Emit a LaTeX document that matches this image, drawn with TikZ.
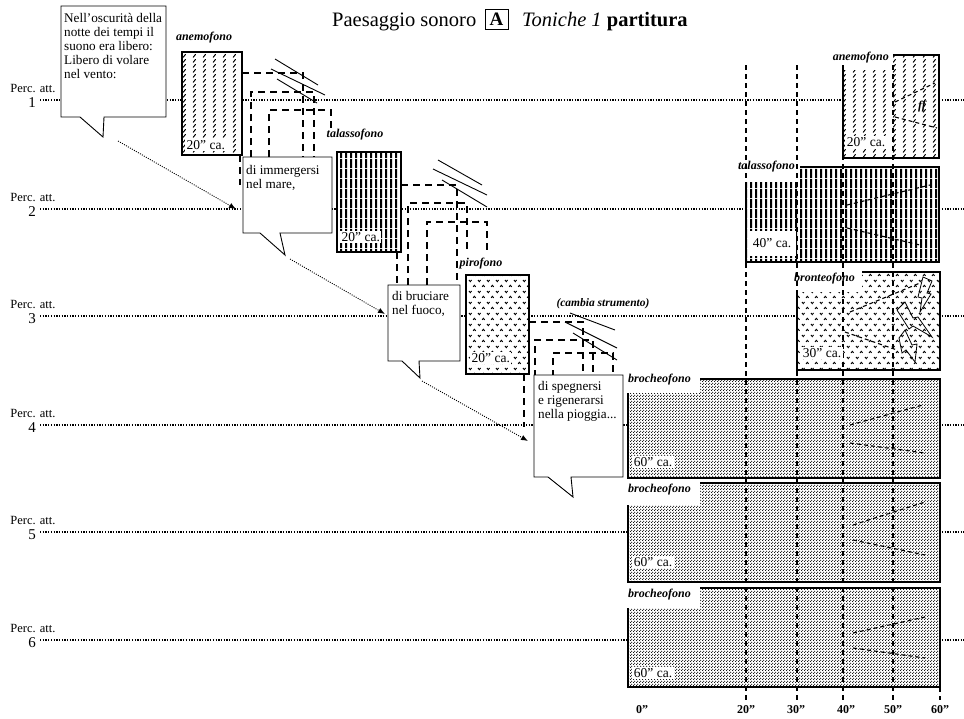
\documentclass[tikz,border=0pt]{standalone}
\usepackage{fontspec}
\setmainfont{Liberation Serif}
\usetikzlibrary{patterns,arrows.meta}

\pgfdeclarepatternformonly{slashcols}{\pgfqpoint{0pt}{0pt}}{\pgfqpoint{10pt}{5pt}}{\pgfqpoint{10pt}{5pt}}{%
  \pgfsetlinewidth{1.1pt}\pgfsetroundcap
  \pgfpathmoveto{\pgfqpoint{3.5pt}{0.8pt}}\pgfpathlineto{\pgfqpoint{5.9pt}{4.2pt}}\pgfusepath{stroke}}
\pgfdeclarepatternformonly{vstripes}{\pgfqpoint{0pt}{0pt}}{\pgfqpoint{5pt}{10pt}}{\pgfqpoint{5pt}{10pt}}{%
  \pgfpathrectangle{\pgfqpoint{0pt}{0pt}}{\pgfqpoint{2.6pt}{10pt}}\pgfusepath{fill}}
\pgfdeclarepatternformonly{chevrons}{\pgfqpoint{0pt}{0pt}}{\pgfqpoint{9pt}{11pt}}{\pgfqpoint{9pt}{11pt}}{%
  \pgfsetlinewidth{1pt}
  \pgfpathmoveto{\pgfqpoint{1.1pt}{9.7pt}}\pgfpathlineto{\pgfqpoint{2.5pt}{8.0pt}}\pgfpathlineto{\pgfqpoint{3.9pt}{9.7pt}}
  \pgfpathmoveto{\pgfqpoint{5.6pt}{2.3pt}}\pgfpathlineto{\pgfqpoint{7pt}{4pt}}\pgfpathlineto{\pgfqpoint{8.4pt}{2.3pt}}
  \pgfusepath{stroke}}
\pgfdeclarepatternformonly{stipple}{\pgfqpoint{0pt}{0pt}}{\pgfqpoint{3pt}{3pt}}{\pgfqpoint{3pt}{3pt}}{%
  \pgfpathcircle{\pgfqpoint{0.75pt}{0.75pt}}{0.78pt}
  \pgfpathcircle{\pgfqpoint{2.25pt}{2.25pt}}{0.78pt}
  \pgfusepath{fill}}

\begin{document}
\begin{tikzpicture}[x=1pt,y=-1pt,
  staff/.style={line width=1.8pt, dash pattern=on 1.3pt off 1.4pt},
  vgrid/.style={line width=1.1pt, dash pattern=on 5pt off 4pt},
  conn/.style={line width=1.9pt, dash pattern=on 7pt off 5pt},
  thickbox/.style={line width=2.2pt},
  bubble/.style={draw, fill=white, line width=0.9pt, line join=miter},
  btext/.style={anchor=north west, inner sep=1pt, align=left, font=\fontsize{13.2}{14}\selectfont},
  darrow/.style={line width=0.9pt, dash pattern=on 1pt off 1.3pt, -{Latex[length=7pt,width=5.5pt]}},
  hair/.style={line width=1.1pt, dash pattern=on 4pt off 3pt},
  slant/.style={line width=0.9pt},
  instlabel/.style={inner sep=1pt, font=\bfseries\itshape\fontsize{12}{12}\selectfont},
  dur/.style={fill=white, inner sep=1.5pt, font=\fontsize{13.5}{14}\selectfont},
  perc/.style={inner sep=0pt, font=\fontsize{12.5}{12.5}\selectfont},
  pnum/.style={inner sep=0pt, font=\fontsize{15}{15}\selectfont},
  tick/.style={inner sep=0pt, font=\bfseries\fontsize{12}{12}\selectfont},
  bolt/.style={line width=0.8pt, line join=miter}
]
\useasboundingbox (0,0) rectangle (964,718);
\fill[white] (0,0) rectangle (964,718);

% ---- title
\node[anchor=base west, inner sep=0, font=\fontsize{20.5}{22}\selectfont] (t1) at (332,26) {Paesaggio sonoro};
\node[draw, line width=0.8pt, minimum width=23, minimum height=20, inner sep=0, font=\bfseries\fontsize{19}{20}\selectfont] (tA) at (496.5,19) {A};
\node[anchor=base west, inner sep=0, font=\fontsize{20.5}{22}\selectfont] (t2) at (522,26) {\textit{Toniche 1} \textbf{partitura}};

% ---- staff lines
\foreach \r/\yy in {1/100,2/209,3/316,4/425,5/532,6/640} {
  \node[perc] (perc\r) at (33,\yy-12) {Perc. att.};
  \node[pnum] (num\r) at (32,\yy+3) {\r};
  \coordinate (sL\r) at (40,\yy);
  \coordinate (sR\r) at (964,\yy);
  \draw[staff] (sL\r) -- (sR\r);
}

% ---- connection dashed lines
\draw[conn] (242,73) -- (303,73) -- (303,157);
\draw[conn] (251,157) -- (251,92) -- (314,92) -- (314,157);
\draw[conn] (269,157) -- (269,110) -- (331,110) -- (331,128);
\draw[conn] (240,155) -- (240,185);
\draw[conn] (401,185) -- (457,185) -- (457,285);
\draw[conn] (397,252) -- (397,285);
\draw[conn] (408,285) -- (408,203) -- (467,203) -- (467,250);
\draw[conn] (427,285) -- (427,222) -- (487,222) -- (487,253);
\draw[conn] (529,322) -- (583,322) -- (583,377);
\draw[conn] (524,374) -- (524,427);
\draw[conn] (535,377) -- (535,340) -- (593,340) -- (593,377);
\draw[conn] (553,377) -- (553,353) -- (613,353) -- (613,377);

% ---- slanted strokes
\draw[slant] (275,59) -- (318,85);
\draw[slant] (271,69) -- (325,95);
\draw[slant] (277,79) -- (317,103);
\draw[slant] (438,160) -- (482,185);
\draw[slant] (433,169) -- (487,195);
\draw[slant] (442,180) -- (487,207);
\draw[slant] (570,313) -- (615,330);
\draw[slant] (565,322) -- (617,348);
\draw[slant] (573,333) -- (617,360);

% ---- left instrument boxes
\path[pattern=slashcols, preaction={fill=white}] (182,52) rectangle (242,155);
\draw[thickbox] (182,52) rectangle (242,155);
\node[instlabel] (lAn) at (204,38) {anemofono};
\node[dur, anchor=west] (dAn) at (185,145) {20” ca.};

\path[pattern=vstripes, preaction={fill=white}] (337,152) rectangle (401,252);
\draw[thickbox] (337,152) rectangle (401,252);
\node[instlabel] (lTa) at (355,135) {talassofono};
\node[dur, anchor=west] (dTa) at (340,237) {20” ca.};

\path[pattern=chevrons, preaction={fill=white}] (466,275) rectangle (529,374);
\draw[thickbox] (466,275) rectangle (529,374);
\node[instlabel] (lPi) at (481,264) {pirofono};
\node[dur, anchor=west] (dPi) at (470,358) {20” ca.};

\node[inner sep=0pt, font=\bfseries\itshape\fontsize{11.5}{12}\selectfont] (cambia) at (603,304) {(cambia strumento)};

% ---- speech bubbles
\draw[bubble] (61,6) -- (166,6) -- (166,117) -- (104,117) -- (103,137) -- (80,117) -- (61,117) -- cycle;
\node[btext] (b1) at (63,12) {Nell’oscurità della\\notte dei tempi il\\suono era libero:\\Libero di volare\\nel vento:};
\draw[bubble] (243,157) -- (332,157) -- (332,233) -- (280,233) -- (285,255) -- (260,233) -- (243,233) -- cycle;
\node[btext] (b2) at (245,164) {di immergersi\\nel mare,};
\draw[bubble] (388,285) -- (460,285) -- (460,361) -- (419,361) -- (420,378) -- (402,361) -- (388,361) -- cycle;
\node[btext] (b3) at (391,290.5) {di bruciare\\nel fuoco,};
\draw[bubble] (534,375) -- (623,375) -- (623,477) -- (571,477) -- (573,497) -- (548,477) -- (534,477) -- cycle;
\node[btext] (b4) at (537,380.5) {di spegnersi\\e rigenerarsi\\nella pioggia...};

% ---- dotted arrows
\coordinate (a1s) at (118,141); \coordinate (a1e) at (236,209);
\coordinate (a2s) at (290,259); \coordinate (a2e) at (385,314);
\coordinate (a3s) at (422,381); \coordinate (a3e) at (528,441);
\draw[darrow] (a1s) -- (a1e);
\draw[darrow] (a2s) -- (a2e);
\draw[darrow] (a3s) -- (a3e);

% ---- right instrument boxes
% anemofono
\path[pattern=slashcols, preaction={fill=white}] (843,70) -- (893,70) -- (893,55) -- (939,55) -- (939,158) -- (843,158) -- cycle;
\draw[thickbox] (843,70) -- (843,158) -- (939,158) -- (939,55) -- (893,55);
% talassofono
\path[pattern=vstripes, preaction={fill=white}] (746,182) -- (800,182) -- (800,167) -- (939,167) -- (939,262) -- (746,262) -- cycle;
\draw[thickbox] (746,182) -- (746,262) -- (939,262) -- (939,167) -- (800,167);
% bronteofono
\path[pattern=chevrons, preaction={fill=white}] (797,292) -- (862,292) -- (862,272) -- (940,272) -- (940,370) -- (797,370) -- cycle;
\draw[thickbox] (797,292) -- (797,370) -- (940,370) -- (940,272) -- (862,272);
% brocheofono x3
\foreach \k/\ta/\tb/\bb in {4/379/393/478, 5/483/505/582, 6/588/608/687} {
  \path[pattern=stipple, pattern color=black, preaction={fill=white}] (628,\tb) -- (700,\tb) -- (700,\ta) -- (940,\ta) -- (940,\bb) -- (628,\bb) -- cycle;
  \draw[thickbox] (628,\tb) -- (628,\bb) -- (940,\bb) -- (940,\ta) -- (700,\ta);
}

% ---- vertical time grid
\foreach \xx/\nm in {746/g20, 797/g30, 843/g40, 893/g50} {
  \coordinate (\nm t) at (\xx,65);
  \coordinate (\nm b) at (\xx,700);
  \draw[vgrid] (\nm t) -- (\nm b);
}
\coordinate (g60t) at (940,687); \coordinate (g60b) at (940,700);
\draw[vgrid] (g60t) -- (g60b);

% ---- hairpins
\draw[hair] (895,102) -- (935,83);
\draw[hair] (895,117) -- (937,128);
\draw[hair] (847,205) -- (930,185);
\draw[hair] (847,228) -- (920,245);
\draw[hair] (850,312) -- (920,283);
\draw[hair] (845,332) -- (897,350);
\draw[hair] (850,425) -- (923,405);
\draw[hair] (850,443) -- (925,453);
\draw[hair] (853,525) -- (925,502);
\draw[hair] (853,540) -- (925,555);
\draw[hair] (853,633) -- (925,617);
\draw[hair] (853,648) -- (925,658);

% ---- lightning bolts
\draw[bolt] (923,277) -- (932,281) -- (927,293) -- (931,294) -- (920,312) -- (922,298) -- (918,297) -- cycle;
\draw[bolt] (897,310) -- (905,302) -- (913,318) -- (918,317) -- (932,337) -- (913,326) -- (909,329) -- cycle;
\draw[bolt] (899,338) -- (905,330) -- (912,345) -- (917,344) -- (915,362) -- (906,350) -- (902,353) -- cycle;

% ---- right labels
\node[instlabel, anchor=east] (rAn) at (890,58) {anemofono};
\node[dur] (rdAn) at (866,142) {20” ca.};
\node[inner sep=0pt, font=\bfseries\itshape\fontsize{12}{12}\selectfont] (ff) at (922,107) {ff};
\node[instlabel, anchor=east] (rTa) at (796,167) {talassofono};
\node[dur, minimum width=48, minimum height=25] (rdTa) at (772,243) {40” ca.};
\node[instlabel, anchor=east] (rBr) at (856,279) {bronteofono};
\node[dur] (rdBr) at (822,353) {30” ca.};
\node[instlabel, anchor=west] (rB4) at (627,380) {brocheofono};
\node[dur] (rd4) at (653,462) {60” ca.};
\node[instlabel, anchor=west] (rB5) at (627,490) {brocheofono};
\node[dur] (rd5) at (653,562) {60” ca.};
\node[instlabel, anchor=west] (rB6) at (627,595) {brocheofono};
\node[dur] (rd6) at (653,673) {60” ca.};

% ---- time axis labels
\node[tick] (x0) at (642,710) {0”};
\node[tick] (x20) at (746,710) {20”};
\node[tick] (x30) at (796,710) {30”};
\node[tick] (x40) at (846,710) {40”};
\node[tick] (x50) at (893,710) {50”};
\node[tick] (x60) at (940,710) {60”};
\end{tikzpicture}
\end{document}
